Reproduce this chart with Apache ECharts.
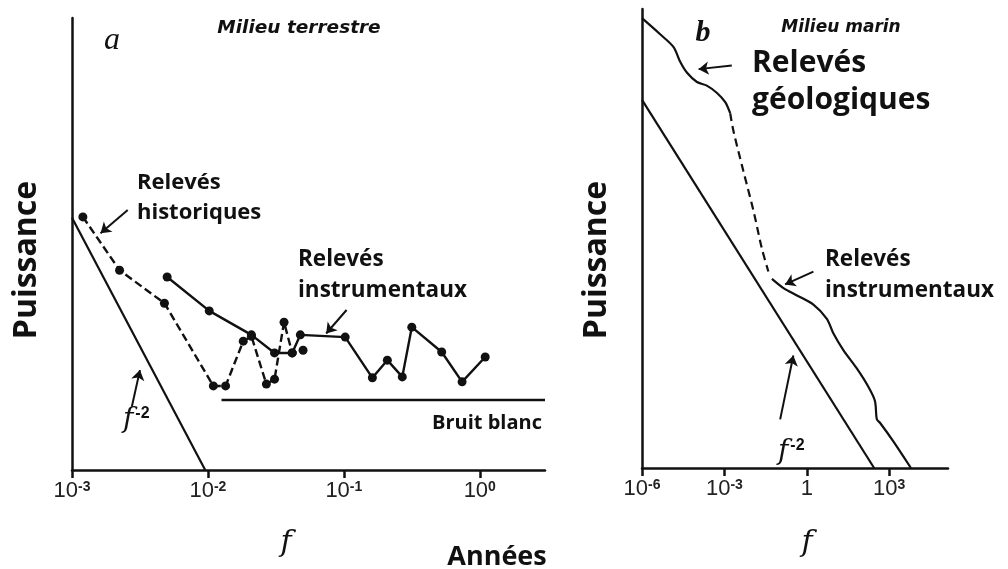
<!DOCTYPE html>
<html>
<head>
<meta charset="utf-8">
<script src="https://cdn.jsdelivr.net/npm/echarts@6/dist/echarts.min.js"></script>
<style>
  html, body { margin: 0; background: #fff; }
  #chart { width: 1008px; height: 569px; }
</style>
</head>
<body>
<div id="chart"></div>
<script>
// x = log10(f), y = power (arbitrary units, 0-100)

// panel a : milieu terrestre
const histLogF = [-2.92, -2.65, -2.32, -1.96, -1.87, -1.74, -1.68, -1.57, -1.51, -1.44, -1.38, -1.30];
const histPow = [56.0, 44.2, 36.9, 18.6, 18.6, 28.5, 29.6, 19.0, 20.1, 32.7, 25.9, 26.5];
const instALogF = [-2.30, -1.99, -1.68, -1.51, -1.38, -1.32, -0.99, -0.79, -0.68, -0.57, -0.50, -0.28, -0.13, 0.04];
const instAPow = [42.7, 35.2, 29.9, 25.9, 25.9, 29.9, 29.4, 20.4, 24.3, 20.6, 31.6, 26.1, 19.5, 25.0];
const powLawALogF = [-3, -2.02];
const powLawAPow = [55.8, 0];
const noiseLogF = [-1.90, 0.48];
const noisePow = [15.5, 15.5];
const ticksA = [-3, -2, -1, 0];

// panel b : milieu marin
const geoLogF = [-6, -5.34, -4.85, -4.61, -4.36, -4.0, -3.64, -3.27, -2.97, -2.79];
const geoPow = [98.0, 94.5, 91.7, 88.5, 86.1, 84.1, 83.3, 81.7, 79.7, 77.3];
const gapLogF = [-2.79, -2.67, -2.31, -1.94, -1.64, -1.40];
const gapPow = [77.3, 73.4, 64.7, 56.0, 47.9, 42.8];
const instBLogF = [-1.27, -0.85, -0.36, 0.24, 0.73, 0.97, 1.33, 1.82, 2.24, 2.48, 2.55, 2.67, 3.15, 3.79];
const instBPow = [41.2, 39.2, 37.6, 35.6, 32.5, 29.3, 25.7, 21.7, 17.7, 14.6, 10.6, 9.8, 5.8, 0];
const powLawBLogF = [-6, 2.45];
const powLawBPow = [80.2, 0];
const ticksB = [-6, -3, 0, 3];

// annotation arrows [from, to]
const arrowsA = [
  [[-2.59, 57.5], [-2.79, 52.4]],
  [[-2.56, 14.0], [-2.50, 22.1]],
  [[-0.98, 35.4], [-1.13, 30.2]]
];
const arrowsB = [
  [[-2.73, 87.7], [-3.94, 86.9]],
  [[0.24, 42.8], [-0.79, 40.0]],
  [[-0.97, 10.6], [-0.49, 24.5]]
];

const ink = '#111';
const boldFont = '"Open Sans", "DejaVu Sans", sans-serif';

function zip(xs, ys) {
  return xs.map((x, i) => [x, ys[i]]);
}

function tickLabel(oneAtZero) {
  return function (v) {
    if (v === 0 && oneAtZero) return '1';
    return '10{sup|' + v + '}';
  };
}

function xAxisFor(idx, min, max, ticks, oneAtZero) {
  return {
    gridIndex: idx,
    type: 'value',
    min: min,
    max: max,
    axisLine: { onZero: false, lineStyle: { color: ink, width: 2.5 } },
    axisTick: { show: true, length: 8, customValues: ticks, lineStyle: { color: ink, width: 2.5 } },
    splitLine: { show: false },
    axisLabel: {
      customValues: ticks,
      formatter: tickLabel(oneAtZero),
      margin: 10,
      color: '#222',
      fontSize: 22,
      fontFamily: 'Liberation Sans',
      rich: {
        sup: { fontSize: 14, fontWeight: 'bold', fontFamily: 'Liberation Sans', verticalAlign: 'top', color: '#222' }
      }
    }
  };
}

function yAxisFor(idx) {
  return {
    gridIndex: idx,
    type: 'value',
    min: 0,
    max: 100,
    axisLine: { show: true, onZero: false, lineStyle: { color: ink, width: 2.5 } },
    axisTick: { show: false },
    axisLabel: { show: false },
    splitLine: { show: false }
  };
}

function lineSeries(idx, data, opts) {
  return Object.assign({
    type: 'line',
    xAxisIndex: idx,
    yAxisIndex: idx,
    data: data,
    showSymbol: false,
    silent: true,
    animation: false,
    lineStyle: { color: ink, width: 2.2 },
    itemStyle: { color: ink }
  }, opts || {});
}

function arrowLines(arrows) {
  return {
    silent: true,
    animation: false,
    symbol: ['none', 'arrow'],
    symbolSize: 10,
    label: { show: false },
    lineStyle: { color: ink, width: 2, type: 'solid' },
    data: arrows.map(a => [{ coord: a[0] }, { coord: a[1] }])
  };
}

function txt(text, x, y, font, align) {
  return {
    type: 'text', x: x, y: y, silent: true,
    style: { text: text, font: font, fill: ink, align: align || 'left', verticalAlign: 'middle' }
  };
}

function fPow(x, y) {
  return {
    type: 'text', x: x, y: y, silent: true,
    style: {
      text: '{f|f}{s|-2}', fill: ink, verticalAlign: 'middle',
      rich: {
        f: { font: 'italic 28px "DejaVu Serif"', fill: ink },
        s: { font: 'bold 16px "Liberation Sans"', fill: ink, verticalAlign: 'top', padding: [0, 0, 0, 2] }
      }
    }
  };
}

const chart = echarts.init(document.getElementById('chart'));
chart.setOption({
  backgroundColor: '#fff',
  animation: false,
  grid: [
    { left: 72, top: 18, width: 473, height: 452 },
    { left: 642, top: 9, width: 306, height: 459 }
  ],
  xAxis: [
    xAxisFor(0, -3, 0.48, ticksA, false),
    xAxisFor(1, -6, 5.14, ticksB, true)
  ],
  yAxis: [yAxisFor(0), yAxisFor(1)],
  series: [
    lineSeries(0, zip(powLawALogF, powLawAPow)),
    lineSeries(0, zip(noiseLogF, noisePow), { lineStyle: { color: ink, width: 2.5 } }),
    lineSeries(0, zip(histLogF, histPow), {
      showSymbol: true, symbol: 'circle', symbolSize: 9,
      lineStyle: { color: ink, width: 2.4, type: [8, 4] },
      markLine: arrowLines(arrowsA)
    }),
    lineSeries(0, zip(instALogF, instAPow), {
      showSymbol: true, symbol: 'circle', symbolSize: 9,
      lineStyle: { color: ink, width: 2.4 }
    }),
    lineSeries(1, zip(powLawBLogF, powLawBPow)),
    lineSeries(1, zip(geoLogF, geoPow), { smooth: 0.3, markLine: arrowLines(arrowsB) }),
    lineSeries(1, zip(gapLogF, gapPow), { smooth: 0.3, lineStyle: { color: ink, width: 2.2, type: [8, 5] } }),
    lineSeries(1, zip(instBLogF, instBPow), { smooth: 0.3 })
  ],
  graphic: [
    txt('a', 112, 41, 'italic 32px "Liberation Serif"', 'center'),
    txt('Milieu terrestre', 299, 28, 'italic bold 18.5px "DejaVu Sans"', 'center'),
    txt('b', 703, 33, 'italic bold 30px "Liberation Serif"', 'center'),
    txt('Milieu marin', 841, 28, 'italic bold 17px "DejaVu Sans"', 'center'),
    txt('Relevés', 137, 183, 'bold 22px ' + boldFont),
    txt('historiques', 137, 213, 'bold 22px ' + boldFont),
    txt('Relevés', 298, 260, 'bold 22.5px ' + boldFont),
    txt('instrumentaux', 298, 291, 'bold 22.5px ' + boldFont),
    txt('Bruit blanc', 432, 423, 'bold 20px ' + boldFont),
    txt('Relevés', 752, 63, 'bold 30px ' + boldFont),
    txt('géologiques', 752, 100, 'bold 30px ' + boldFont),
    txt('Relevés', 825, 260, 'bold 22.5px ' + boldFont),
    txt('instrumentaux', 825, 291, 'bold 22.5px ' + boldFont),
    txt('Années', 497, 557, 'bold 27px ' + boldFont, 'center'),
    txt('f', 286, 543, 'italic 30px "DejaVu Serif"', 'center'),
    txt('f', 807, 543, 'italic 30px "DejaVu Serif"', 'center'),
    fPow(123, 420),
    fPow(778, 452),
    Object.assign(txt('Puissance', 27, 260, 'bold 32px ' + boldFont, 'center'), { rotation: Math.PI / 2 }),
    Object.assign(txt('Puissance', 597, 260, 'bold 32px ' + boldFont, 'center'), { rotation: Math.PI / 2 })
  ]
});
</script>
</body>
</html>
